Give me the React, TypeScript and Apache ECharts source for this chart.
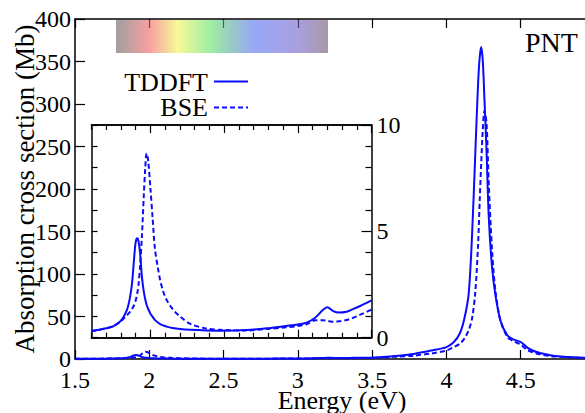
import React, { useEffect, useRef } from "react";
import * as echarts from "echarts";

// ---- data ----
// inset region energies (eV) and cross sections (Mb)
const lowE = [1.6, 1.65, 1.7, 1.75, 1.8, 1.84, 1.86, 1.875, 1.89, 1.9, 1.911, 1.92, 1.93, 1.942, 1.955, 1.965, 1.974, 1.985, 2.0, 2.015, 2.03, 2.05, 2.066, 2.09, 2.11, 2.15, 2.2, 2.27, 2.38, 2.5, 2.65, 2.79, 2.92, 3.0, 3.06, 3.12, 3.17, 3.2, 3.24, 3.28, 3.33, 3.37, 3.42, 3.5];
const tddftLow = [0.31, 0.37, 0.44, 0.54, 0.8, 1.3, 1.85, 2.55, 3.8, 4.5, 4.67, 4.5, 3.95, 2.87, 2.15, 1.8, 1.55, 1.35, 1.13, 0.98, 0.84, 0.72, 0.64, 0.57, 0.52, 0.46, 0.41, 0.37, 0.34, 0.33, 0.36, 0.44, 0.55, 0.62, 0.71, 0.95, 1.3, 1.43, 1.25, 1.18, 1.22, 1.33, 1.48, 1.75];
const bseLow = [0.31, 0.37, 0.45, 0.55, 0.78, 1.05, 1.2, 1.35, 1.55, 1.75, 2.1, 2.55, 3.4, 4.75, 6.7, 8.0, 8.67, 8.3, 7.0, 5.6, 4.2, 3.3, 2.7, 2.1, 1.77, 1.35, 1.0, 0.65, 0.43, 0.36, 0.34, 0.41, 0.49, 0.55, 0.63, 0.82, 0.82, 0.79, 0.75, 0.77, 0.83, 0.92, 1.07, 1.32];
// main peak region
const highE = [3.555, 3.65, 3.78, 3.9, 4.0, 4.05, 4.09, 4.12, 4.15, 4.173, 4.195, 4.213, 4.224, 4.234, 4.245, 4.256, 4.27, 4.285, 4.307, 4.33, 4.364, 4.41, 4.45, 4.5, 4.54, 4.58, 4.63, 4.7, 4.77, 4.85, 4.94, 5.0];
const tddftHigh = [2, 3.5, 6, 10, 14, 20, 30, 47, 77, 148, 245, 324, 355, 367, 350, 305, 245, 167, 108, 75, 45, 28, 23, 20, 14, 10, 7, 4.5, 3, 2, 1.5, 1.3];
const bseHigh = [1.5, 2.5, 4, 6.5, 10, 14, 18, 24, 34, 48, 80, 135, 186, 230, 270, 292, 277, 206, 128, 80, 45, 26, 21, 17, 11, 8, 5.5, 3.5, 2.5, 1.7, 1.2, 1.0];
const startE = 1.5;
const startV = 0.25;

const insetMajorX = [2, 2.5, 3, 3.5];
const insetMinorX = [1.6, 1.7, 1.8, 1.9, 2.1, 2.2, 2.3, 2.4, 2.6, 2.7, 2.8, 2.9, 3.1, 3.2, 3.3, 3.4];

const FONT = "Times New Roman";
const BLUE = "#0a0aff";

function pairs(xs: number[], ys: number[]) {
  return xs.map((x, i) => [x, ys[i]]);
}

export default function App() {
  const ref = useRef<HTMLDivElement>(null);
  useEffect(() => {
    if (!ref.current) return;
    const chart = echarts.init(ref.current, undefined, { renderer: "svg" });
    const mainT = [[startE, startV], ...pairs(lowE, tddftLow), ...pairs(highE, tddftHigh)];
    const mainB = [[startE, startV], ...pairs(lowE, bseLow), ...pairs(highE, bseHigh)];
    const axisLine = { show: true, onZero: false, lineStyle: { color: "#000", width: 1.5 } };
    const tickStyle = { color: "#000", width: 1.2 };
    const richLabel = {
      color: "#000", fontFamily: FONT, fontSize: 24,
      formatter: "{a|{value}}",
      rich: { a: { color: "#000", fontFamily: FONT, fontSize: 24 } },
    };
    chart.setOption({
      animation: false,
      textStyle: { fontFamily: FONT },
      grid: [
        { left: 75, right: -10, top: 19, bottom: 54, containLabel: false, outerBoundsMode: "none" },
        { left: 91.5, top: 125, width: 280, height: 212.7, containLabel: false, outerBoundsMode: "none" },
      ],
      xAxis: [
        {
          gridIndex: 0, type: "value", position: "bottom", min: 1.5, max: 5, interval: 0.5,
          axisLine, splitLine: { show: false },
          axisTick: { inside: true, length: 9, lineStyle: tickStyle },
          axisLabel: { ...richLabel, margin: 9, showMaxLabel: false },
          name: "Energy (eV)", nameLocation: "middle", nameGap: 28, nameMoveOverlap: false,
          nameTextStyle: { color: "#000", fontFamily: FONT, fontSize: 26, padding: [0, 0, 0, 14] },
        },
        {
          gridIndex: 0, type: "value", position: "top", min: 1.5, max: 5, interval: 0.5,
          axisLine, splitLine: { show: false },
          axisTick: { inside: true, length: 9, lineStyle: tickStyle },
          axisLabel: { show: false },
        },
        {
          gridIndex: 1, type: "value", position: "bottom", min: 1.6, max: 3.5,
          axisLine, splitLine: { show: false },
          axisTick: { inside: true, length: 8, customValues: insetMajorX, lineStyle: tickStyle },
          axisLabel: { show: false },
        },
        {
          gridIndex: 1, type: "value", position: "bottom", min: 1.6, max: 3.5,
          axisLine, splitLine: { show: false },
          axisTick: { inside: true, length: 5, customValues: insetMinorX, lineStyle: tickStyle },
          axisLabel: { show: false },
        },
        {
          gridIndex: 1, type: "value", position: "top", min: 1.6, max: 3.5,
          axisLine, splitLine: { show: false },
          axisTick: { inside: true, length: 8, customValues: insetMajorX, lineStyle: tickStyle },
          axisLabel: { show: false },
        },
        {
          gridIndex: 1, type: "value", position: "top", min: 1.6, max: 3.5,
          axisLine, splitLine: { show: false },
          axisTick: { inside: true, length: 5, customValues: insetMinorX, lineStyle: tickStyle },
          axisLabel: { show: false },
        },
      ],
      yAxis: [
        {
          gridIndex: 0, type: "value", position: "left", min: 0, max: 400, interval: 50,
          axisLine, splitLine: { show: false },
          axisTick: { inside: true, length: 10, lineStyle: tickStyle },
          axisLabel: { ...richLabel, margin: 4 },
          name: "Absorption cross section (Mb)", nameLocation: "middle", nameGap: 37, nameMoveOverlap: false,
          nameTextStyle: { color: "#000", fontFamily: FONT, fontSize: 27 },
        },
        {
          gridIndex: 0, type: "value", position: "right", min: 0, max: 400, interval: 50,
          axisLine, splitLine: { show: false },
          axisTick: { inside: true, length: 10, lineStyle: tickStyle },
          axisLabel: { show: false },
        },
        {
          gridIndex: 1, type: "value", position: "left", min: 0, max: 10, interval: 1,
          axisLine, splitLine: { show: false },
          axisTick: { inside: true, length: 6, lineStyle: tickStyle },
          axisLabel: { show: false },
        },
        {
          gridIndex: 1, type: "value", position: "right", min: 0, max: 10, interval: 5,
          axisLine, splitLine: { show: false },
          axisTick: { inside: true, length: 10, lineStyle: tickStyle },
          minorTick: { show: true, splitNumber: 5, length: 6, lineStyle: tickStyle },
          axisLabel: { ...richLabel, margin: 5 },
        },
      ],
      series: [
        {
          name: "TDDFT", type: "line", xAxisIndex: 0, yAxisIndex: 0, data: mainT,
          showSymbol: false, symbol: "none", smooth: 0.3,
          lineStyle: { color: BLUE, width: 2 },
        },
        {
          name: "BSE", type: "line", xAxisIndex: 0, yAxisIndex: 0, data: mainB,
          showSymbol: false, symbol: "none", smooth: 0.3,
          lineStyle: { color: BLUE, width: 2, type: [5, 3] },
        },
        {
          name: "TDDFT", type: "line", xAxisIndex: 2, yAxisIndex: 2, data: pairs(lowE, tddftLow),
          showSymbol: false, symbol: "none", smooth: 0.3,
          lineStyle: { color: BLUE, width: 2 },
        },
        {
          name: "BSE", type: "line", xAxisIndex: 2, yAxisIndex: 2, data: pairs(lowE, bseLow),
          showSymbol: false, symbol: "none", smooth: 0.3,
          lineStyle: { color: BLUE, width: 2, type: [5, 3] },
        },
      ],
      graphic: [
        {
          type: "rect", z: 100, silent: true,
          shape: { x: 116, y: 20, width: 212, height: 33 },
          style: {
            fill: {
              type: "linear", x: 0, y: 0, x2: 1, y2: 0,
              colorStops: [
                { offset: 0, color: "rgba(97,96,96,0.6)" },
                { offset: 0.16, color: "rgba(243,97,97,0.6)" },
                { offset: 0.29, color: "rgba(243,243,85,0.6)" },
                { offset: 0.44, color: "rgba(97,230,97,0.6)" },
                { offset: 0.55, color: "rgba(83,163,163,0.6)" },
                { offset: 0.65, color: "rgba(83,110,243,0.6)" },
                { offset: 0.85, color: "rgba(110,97,203,0.6)" },
                { offset: 1, color: "rgba(110,83,110,0.6)" },
              ],
            },
          },
        },
        {
          type: "text", z: 100, x: 208, y: 82,
          style: { text: "TDDFT", fill: "#000", fontSize: 26, fontFamily: FONT, align: "right", verticalAlign: "middle" },
        },
        {
          type: "line", z: 100, shape: { x1: 214, y1: 81.5, x2: 248, y2: 81.5 },
          style: { stroke: BLUE, lineWidth: 2 },
        },
        {
          type: "text", z: 100, x: 208, y: 107.5,
          style: { text: "BSE", fill: "#000", fontSize: 26, fontFamily: FONT, align: "right", verticalAlign: "middle" },
        },
        {
          type: "line", z: 100, shape: { x1: 214, y1: 107.5, x2: 248, y2: 107.5 },
          style: { stroke: BLUE, lineWidth: 2, lineDash: [5, 3] },
        },
        {
          type: "text", z: 100, x: 525, y: 42,
          style: { text: "PNT", fill: "#000", fontSize: 28, fontFamily: FONT, align: "left", verticalAlign: "middle" },
        },
      ],
    });
    return () => chart.dispose();
  }, []);
  return (
    <div
      ref={ref}
      style={{ position: "absolute", left: 0, top: 0, width: 585, height: 413, background: "#fff" }}
    />
  );
}
